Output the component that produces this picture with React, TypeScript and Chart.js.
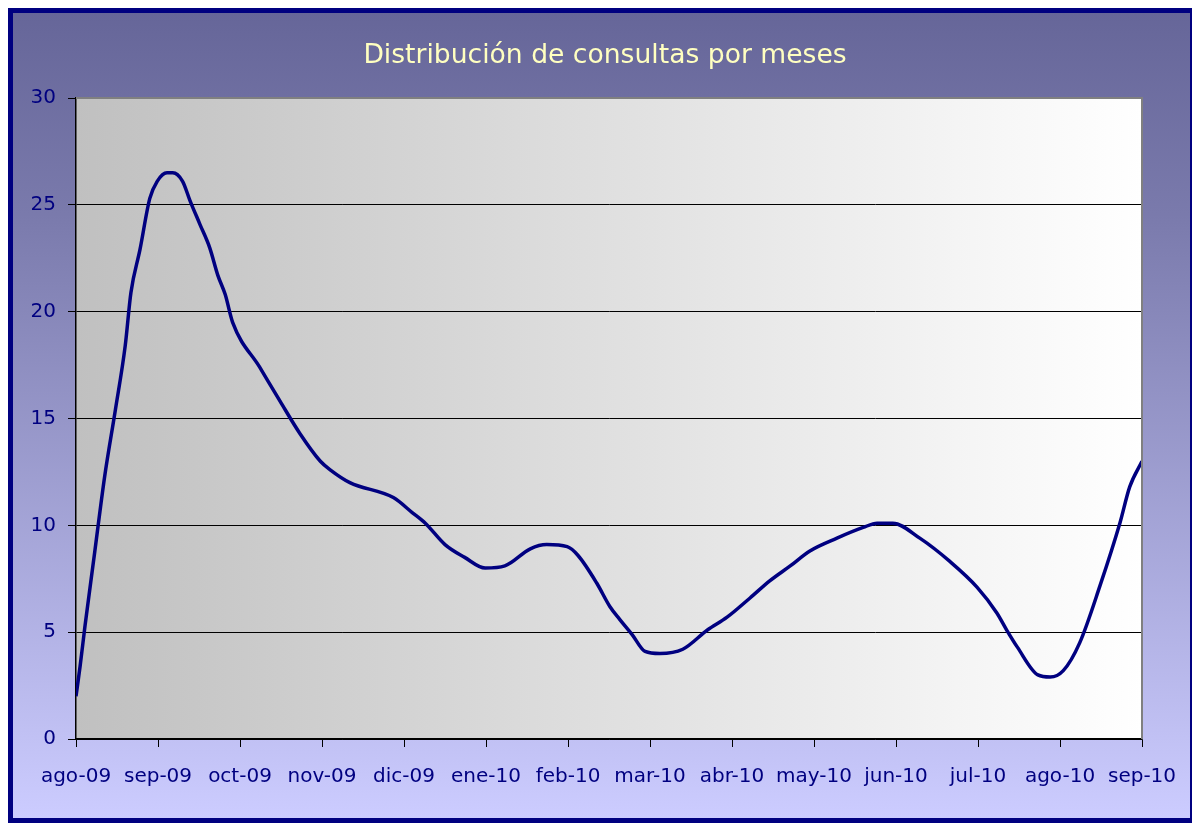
import React, { useEffect, useRef } from "react";
import { Chart, registerables } from "chart.js";

Chart.register(...registerables);

const chartTitle = "Distribución de consultas por meses";

const monthLabels = [
  "ago-09", "sep-09", "oct-09", "nov-09", "dic-09", "ene-10", "feb-10",
  "mar-10", "abr-10", "may-10", "jun-10", "jul-10", "ago-10", "sep-10",
];

// sample positions along the month axis (0 = ago-09 ... 13 = sep-10)
const samplePositions = [
  0, 0.05, 0.11, 0.23, 0.35, 0.48, 0.6, 0.67, 0.78, 0.9, 0.99, 1.11, 1.18, 1.3,
  1.39, 1.51, 1.63, 1.73, 1.82, 1.91, 2.24, 2.49, 2.73, 2.98, 3.1, 3.34, 3.87,
  4.1, 4.26, 4.5, 4.74, 4.99, 5.23, 5.54, 5.74, 5.99, 6.12, 6.35, 6.51, 6.63,
  6.78, 6.94, 7.12, 7.4, 7.7, 7.94, 8.22, 8.46, 8.71, 8.95, 9.28, 9.6, 9.77,
  9.96, 10.29, 10.66, 10.99, 11.23, 11.35, 11.48, 11.73, 11.88, 12.04, 12.24,
  12.49, 12.73, 12.85, 13,
];

const consultas = [
  2.0, 3.4, 5.3, 8.8, 12.3, 15.4, 18.4, 20.9, 22.9, 25.3, 26.1, 26.5, 26.5, 26.1,
  25.2, 24.1, 23.0, 21.7, 20.8, 19.5, 17.4, 15.8, 14.3, 13.0, 12.6, 12.0, 11.3,
  10.6, 10.1, 9.1, 8.5, 8.0, 8.1, 8.9, 9.1, 9.0, 8.6, 7.3, 6.2, 5.6,
  4.9, 4.1, 4.0, 4.2, 5.1, 5.7, 6.6, 7.4, 8.1, 8.8, 9.4, 9.9, 10.1,
  10.1, 9.4, 8.3, 7.1, 5.9, 5.1, 4.3, 3.0, 2.9, 3.2, 4.5,
  7.2, 10.1, 11.8, 13.0,
];

const yTicks = [0, 5, 10, 15, 20, 25, 30];

const FONT = "'DejaVu Sans', Verdana, sans-serif";

const plotDecor = {
  id: "plotDecor",
  beforeDraw(chart: any) {
    const { ctx, chartArea } = chart;
    if (!chartArea) return;
    const g = ctx.createLinearGradient(chartArea.left, 0, chartArea.right, 0);
    g.addColorStop(0, "#c0c0c0");
    g.addColorStop(1, "#ffffff");
    ctx.save();
    ctx.fillStyle = g;
    ctx.fillRect(chartArea.left, chartArea.top, chartArea.right - chartArea.left, chartArea.bottom - chartArea.top);
    ctx.restore();
  },
  afterDatasetsDraw(chart: any) {
    const { ctx, chartArea } = chart;
    ctx.save();
    ctx.strokeStyle = "#808080";
    ctx.lineWidth = 2;
    ctx.beginPath();
    ctx.moveTo(chartArea.left, chartArea.top);
    ctx.lineTo(chartArea.right, chartArea.top);
    ctx.lineTo(chartArea.right, chartArea.bottom);
    ctx.stroke();
    // title, centred over the plot area
    ctx.fillStyle = "#ffffc0";
    ctx.font = `normal 26.6px ${FONT}`;
    ctx.textAlign = "center";
    ctx.textBaseline = "alphabetic";
    ctx.fillText(chartTitle, 592, 50);
    ctx.restore();
  },
};

export default function App() {
  const ref = useRef<HTMLCanvasElement | null>(null);

  useEffect(() => {
    if (!ref.current) return;
    const data = samplePositions.map((x, i) => ({ x, y: consultas[i] }));
    const chart = new Chart(ref.current, {
      type: "line",
      data: {
        datasets: [
          {
            label: "Consultas",
            data,
            borderColor: "#000080",
            borderWidth: 3.5,
            pointRadius: 0,
            cubicInterpolationMode: "monotone",
            fill: false,
          },
        ],
      },
      options: {
        animation: false,
        responsive: false,
        maintainAspectRatio: false,
        layout: { padding: { left: 0, right: 48, top: 85, bottom: 11 } },
        plugins: {
          legend: { display: false },
          tooltip: { enabled: false },
          title: { display: false },
        },
        scales: {
          x: {
            type: "linear",
            min: 0,
            max: 13,
            afterBuildTicks: (scale: any) => {
              scale.ticks = monthLabels.map((_, i) => ({ value: i }));
            },
            afterFit: (scale: any) => {
              scale.paddingLeft = 0;
              scale.paddingRight = 0;
            },
            ticks: {
              autoSkip: false,
              maxRotation: 0,
              color: "#000080",
              font: { family: FONT, size: 20 },
              padding: 18,
              callback: (v: any) => monthLabels[Math.round(Number(v))] ?? "",
            },
            grid: {
              drawOnChartArea: false,
              drawTicks: true,
              tickLength: 8,
              color: "#000000",
            },
            border: { color: "#000000", width: 1.5 },
          },
          y: {
            min: 0,
            max: 30,
            afterBuildTicks: (scale: any) => {
              scale.ticks = yTicks.map((v) => ({ value: v }));
            },
            afterFit: (scale: any) => {
              scale.width = 63;
            },
            ticks: {
              color: "#000080",
              font: { family: FONT, size: 20 },
              padding: 12,
            },
            grid: {
              color: (c: any) => (c.tick && c.tick.value === 30 ? "#808080" : "#000000"),
              tickColor: "#000000",
              tickLength: 8,
              lineWidth: 1,
            },
            border: { color: "#000000", width: 1.5 },
          },
        },
      },
      plugins: [plotDecor],
    });
    return () => chart.destroy();
  }, []);

  return (
    <div
      style={{
        width: 1187,
        height: 815,
        boxSizing: "border-box",
        border: "5px solid #000080",
        background: "linear-gradient(to bottom, #666699 0%, #7a7aac 25%, #ccccff 100%)",
        margin: 0,
      }}
    >
      <canvas ref={ref} width={1177} height={805} style={{ display: "block" }} />
    </div>
  );
}
